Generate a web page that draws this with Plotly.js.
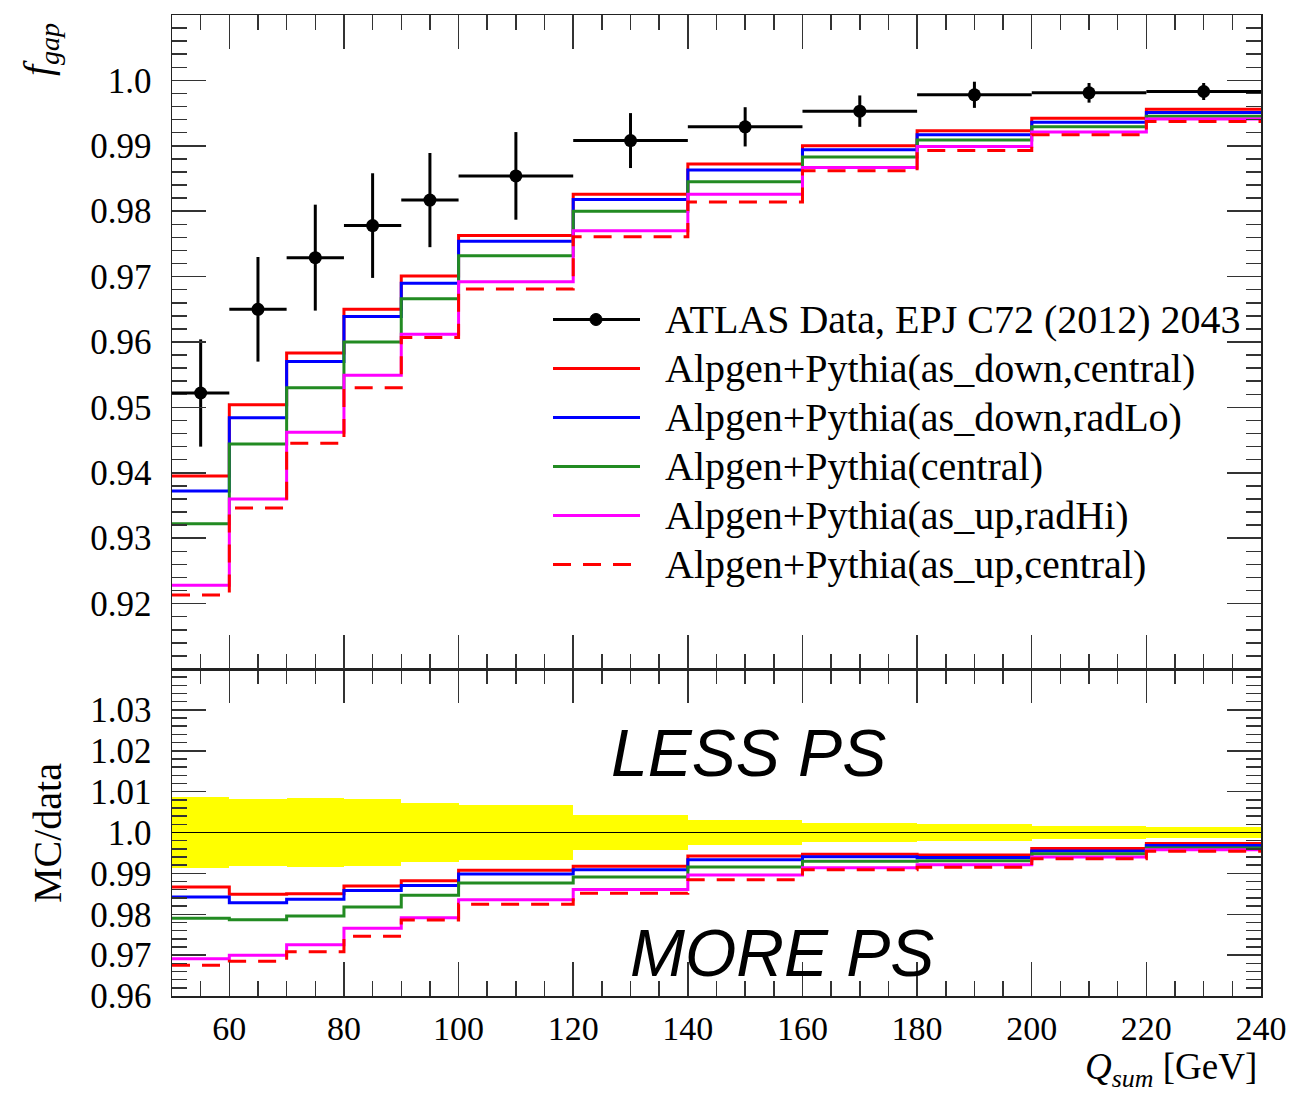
<!DOCTYPE html>
<html>
<head>
<meta charset="utf-8">
<script src="https://cdn.plot.ly/plotly-3.0.1.min.js"></script>
<style>
  html, body { margin: 0; padding: 0; background: #ffffff; }
  #plot { width: 1293px; height: 1094px; }
</style>
</head>
<body>
<div id="plot"></div>
<script>
// Q_sum binning (GeV)
const binEdges = [50, 60, 70, 80, 90, 100, 120, 140, 160, 180, 200, 220, 240];

// ATLAS gap fraction, EPJ C72 (2012) 2043
const dataVals = [0.9522, 0.9650, 0.9729, 0.9778, 0.9817, 0.9854, 0.9908, 0.9929, 0.9953, 0.9978, 0.9981, 0.9983];
const dataErrs = [0.0082, 0.0080, 0.0081, 0.0080, 0.0072, 0.0067, 0.0042, 0.0030, 0.0024, 0.0020, 0.0015, 0.0013];

// Alpgen+Pythia predictions
const asDownCentral = [0.9395, 0.9504, 0.9583, 0.9650, 0.9701, 0.9763, 0.9826, 0.9872, 0.9900, 0.9923, 0.9942, 0.9956];
const asDownRadLo   = [0.9372, 0.9484, 0.9570, 0.9639, 0.9690, 0.9754, 0.9818, 0.9863, 0.9894, 0.9917, 0.9936, 0.9951];
const centralTune   = [0.9322, 0.9444, 0.9530, 0.9600, 0.9666, 0.9732, 0.9800, 0.9845, 0.9883, 0.9909, 0.9929, 0.9945];
const asUpRadHi     = [0.9228, 0.9360, 0.9462, 0.9549, 0.9612, 0.9692, 0.9770, 0.9826, 0.9867, 0.9899, 0.9921, 0.9941];
const asUpCentral   = [0.9213, 0.9346, 0.9445, 0.9530, 0.9607, 0.9681, 0.9761, 0.9814, 0.9862, 0.9893, 0.9917, 0.9937];

const dataLabel = 'ATLAS Data, EPJ C72 (2012) 2043';
const mcLabels = [
  'Alpgen+Pythia(as_down,central)',
  'Alpgen+Pythia(as_down,radLo)',
  'Alpgen+Pythia(central)',
  'Alpgen+Pythia(as_up,radHi)',
  'Alpgen+Pythia(as_up,central)'
];

// Axis tick labels
const xTickVals = [60, 80, 100, 120, 140, 160, 180, 200, 220, 240];
const xTickText = ['60', '80', '100', '120', '140', '160', '180', '200', '220', '240'];
const topTickVals = [0.92, 0.93, 0.94, 0.95, 0.96, 0.97, 0.98, 0.99, 1.0];
const topTickText = ['0.92', '0.93', '0.94', '0.95', '0.96', '0.97', '0.98', '0.99', '1.0'];
const ratioTickVals = [0.96, 0.97, 0.98, 0.99, 1.0, 1.01, 1.02, 1.03];
const ratioTickText = ['0.96', '0.97', '0.98', '0.99', '1.0', '1.01', '1.02', '1.03'];

// ---- derived quantities -------------------------------------------------
const mcSeries = [asDownCentral, asDownRadLo, centralTune, asUpRadHi, asUpCentral];
const mcStyles = [
  { color: '#ff0000', dash: 'solid' },
  { color: '#0000ff', dash: 'solid' },
  { color: '#228b22', dash: 'solid' },
  { color: '#ff00ff', dash: 'solid' },
  { color: '#ff0000', dash: '18px,12px' }
];

const centers = [], halfWidths = [], widths = [];
for (let i = 0; i < binEdges.length - 1; i++) {
  centers.push((binEdges[i] + binEdges[i + 1]) / 2);
  halfWidths.push((binEdges[i + 1] - binEdges[i]) / 2);
  widths.push(binEdges[i + 1] - binEdges[i]);
}
const stepY = vals => vals.concat([vals[vals.length - 1]]);
const relErr = dataErrs.map((e, i) => e / dataVals[i]);

const font = 'Liberation Serif, Times New Roman, serif';
const traces = [];

// data uncertainty band in the ratio panel
traces.push({
  type: 'bar', xaxis: 'x', yaxis: 'y',
  x: centers, width: widths,
  base: relErr.map(r => 1 - r), y: relErr.map(r => 2 * r),
  marker: { color: '#ffff00', line: { width: 0 } },
  hoverinfo: 'skip', showlegend: false
});

// MC / data ratios
mcSeries.forEach((s, k) => {
  traces.push({
    type: 'scatter', mode: 'lines', xaxis: 'x', yaxis: 'y',
    x: binEdges, y: stepY(s.map((v, i) => v / dataVals[i])),
    line: { shape: 'hv', width: 3, color: mcStyles[k].color, dash: mcStyles[k].dash },
    name: mcLabels[k], showlegend: false
  });
});

// MC predictions in the main panel
mcSeries.forEach((s, k) => {
  traces.push({
    type: 'scatter', mode: 'lines', xaxis: 'x2', yaxis: 'y2',
    x: binEdges, y: stepY(s),
    line: { shape: 'hv', width: 3, color: mcStyles[k].color, dash: mcStyles[k].dash },
    name: mcLabels[k], showlegend: false
  });
});

// measured points
traces.push({
  type: 'scatter', mode: 'markers', xaxis: 'x2', yaxis: 'y2',
  x: centers, y: dataVals,
  marker: { color: '#000000', size: 13 },
  error_y: { type: 'data', array: dataErrs, visible: true, color: '#000000', thickness: 3, width: 0 },
  error_x: { type: 'data', array: halfWidths, visible: true, color: '#000000', thickness: 3, width: 0 },
  name: dataLabel, showlegend: false
});

// ---- layout -------------------------------------------------------------
const L = 172, R = 1261, T = 15, B = 996;
const px = x => (x - L) / (R - L);
const py = y => (B - y) / (B - T);

const tickStyle = {
  ticks: 'inside', ticklen: 34, tickwidth: 1.5, tickcolor: '#333333',
  showline: true, linecolor: '#222222', linewidth: 1.5, mirror: 'ticks',
  showgrid: false, zeroline: false,
  tickfont: { family: font, size: 35, color: '#000000' }
};

const xCommon = Object.assign({}, tickStyle, {
  range: [50, 240], tickmode: 'array', tickvals: xTickVals, ticktext: xTickText,
  tickfont: { family: font, size: 34, color: '#000000' },
  minor: { tickmode: 'linear', tick0: 50, dtick: 5, ticks: 'inside', ticklen: 15, tickwidth: 1.5, tickcolor: '#333333' }
});

const layout = {
  width: 1293, height: 1094,
  margin: { l: L, r: 1293 - R, t: T, b: 1094 - B },
  paper_bgcolor: '#ffffff', plot_bgcolor: '#ffffff',
  showlegend: false, bargap: 0,
  xaxis: Object.assign({}, xCommon, { anchor: 'y', ticklabelstandoff: 2 }),
  xaxis2: Object.assign({}, xCommon, { anchor: 'y2', matches: 'x', showticklabels: false }),
  yaxis: Object.assign({}, tickStyle, {
    domain: [0, 1 / 3], range: [0.96, 1.04],
    tickmode: 'array', tickvals: ratioTickVals, ticktext: ratioTickText, ticklabelstandoff: 12,
    minor: { tickmode: 'linear', tick0: 0.96, dtick: 0.002, ticks: 'inside', ticklen: 15, tickwidth: 1.5, tickcolor: '#333333' }
  }),
  yaxis2: Object.assign({}, tickStyle, {
    domain: [1 / 3, 1], range: [0.91, 1.01],
    tickmode: 'array', tickvals: topTickVals, ticktext: topTickText, ticklabelstandoff: 12,
    minor: { tickmode: 'linear', tick0: 0.91, dtick: 0.002, ticks: 'inside', ticklen: 15, tickwidth: 1.5, tickcolor: '#333333' }
  }),
  shapes: [],
  annotations: []
};

// unity line in the ratio panel
layout.shapes.push({
  type: 'line', xref: 'x', yref: 'y', x0: binEdges[0], x1: binEdges[binEdges.length - 1], y0: 1, y1: 1,
  line: { color: '#000000', width: 1 }, layer: 'above'
});

// legend block
const legX0 = px(553), legX1 = px(640), legText = px(663);
const rowY = k => py(319.5 + 49 * k);
const legFont = { family: font, size: 40, color: '#000000' };

layout.shapes.push({
  type: 'line', xref: 'paper', yref: 'paper', x0: legX0, x1: legX1, y0: rowY(0), y1: rowY(0),
  line: { color: '#000000', width: 3 }
});
layout.shapes.push({
  type: 'circle', xref: 'paper', yref: 'paper', xsizemode: 'pixel', ysizemode: 'pixel',
  xanchor: px(596), yanchor: rowY(0), x0: -6, x1: 6, y0: -6, y1: 6,
  fillcolor: '#000000', line: { color: '#000000', width: 1 }
});
layout.annotations.push({
  xref: 'paper', yref: 'paper', x: legText, y: rowY(0), xanchor: 'left', yanchor: 'middle',
  text: dataLabel, showarrow: false, font: legFont
});
mcLabels.forEach((lab, k) => {
  layout.shapes.push({
    type: 'line', xref: 'paper', yref: 'paper', x0: legX0, x1: legX1, y0: rowY(k + 1), y1: rowY(k + 1),
    line: { color: mcStyles[k].color, width: 3, dash: mcStyles[k].dash }
  });
  layout.annotations.push({
    xref: 'paper', yref: 'paper', x: legText, y: rowY(k + 1), xanchor: 'left', yanchor: 'middle',
    text: lab, showarrow: false, font: legFont
  });
});

// ratio panel captions
const capFont = { family: 'Liberation Sans, Arial, sans-serif', size: 66, color: '#000000', style: 'italic' };
layout.annotations.push({
  xref: 'paper', yref: 'paper', x: px(748), y: py(753), xanchor: 'center', yanchor: 'middle',
  text: 'LESS PS', showarrow: false, font: capFont
});
layout.annotations.push({
  xref: 'paper', yref: 'paper', x: px(782), y: py(953), xanchor: 'center', yanchor: 'middle',
  text: 'MORE PS', showarrow: false, font: capFont
});

// axis titles
layout.annotations.push({
  xref: 'paper', yref: 'paper', x: px(40), y: py(50), xanchor: 'center', yanchor: 'middle',
  textangle: -90, text: '<i>f</i><sub><i>gap</i></sub>', showarrow: false,
  font: { family: font, size: 40, color: '#000000' }
});
layout.annotations.push({
  xref: 'paper', yref: 'paper', x: px(47), y: py(833), xanchor: 'center', yanchor: 'middle',
  textangle: -90, text: 'MC/data', showarrow: false,
  font: { family: font, size: 40, color: '#000000' }
});
layout.annotations.push({
  xref: 'paper', yref: 'paper', x: px(1259), y: py(1069), xanchor: 'right', yanchor: 'middle',
  text: '<i>Q</i><sub><i>sum</i></sub> [GeV]', showarrow: false,
  font: { family: font, size: 37, color: '#000000' }
});

Plotly.newPlot('plot', traces, layout, { displayModeBar: false, staticPlot: true });
</script>
</body>
</html>
